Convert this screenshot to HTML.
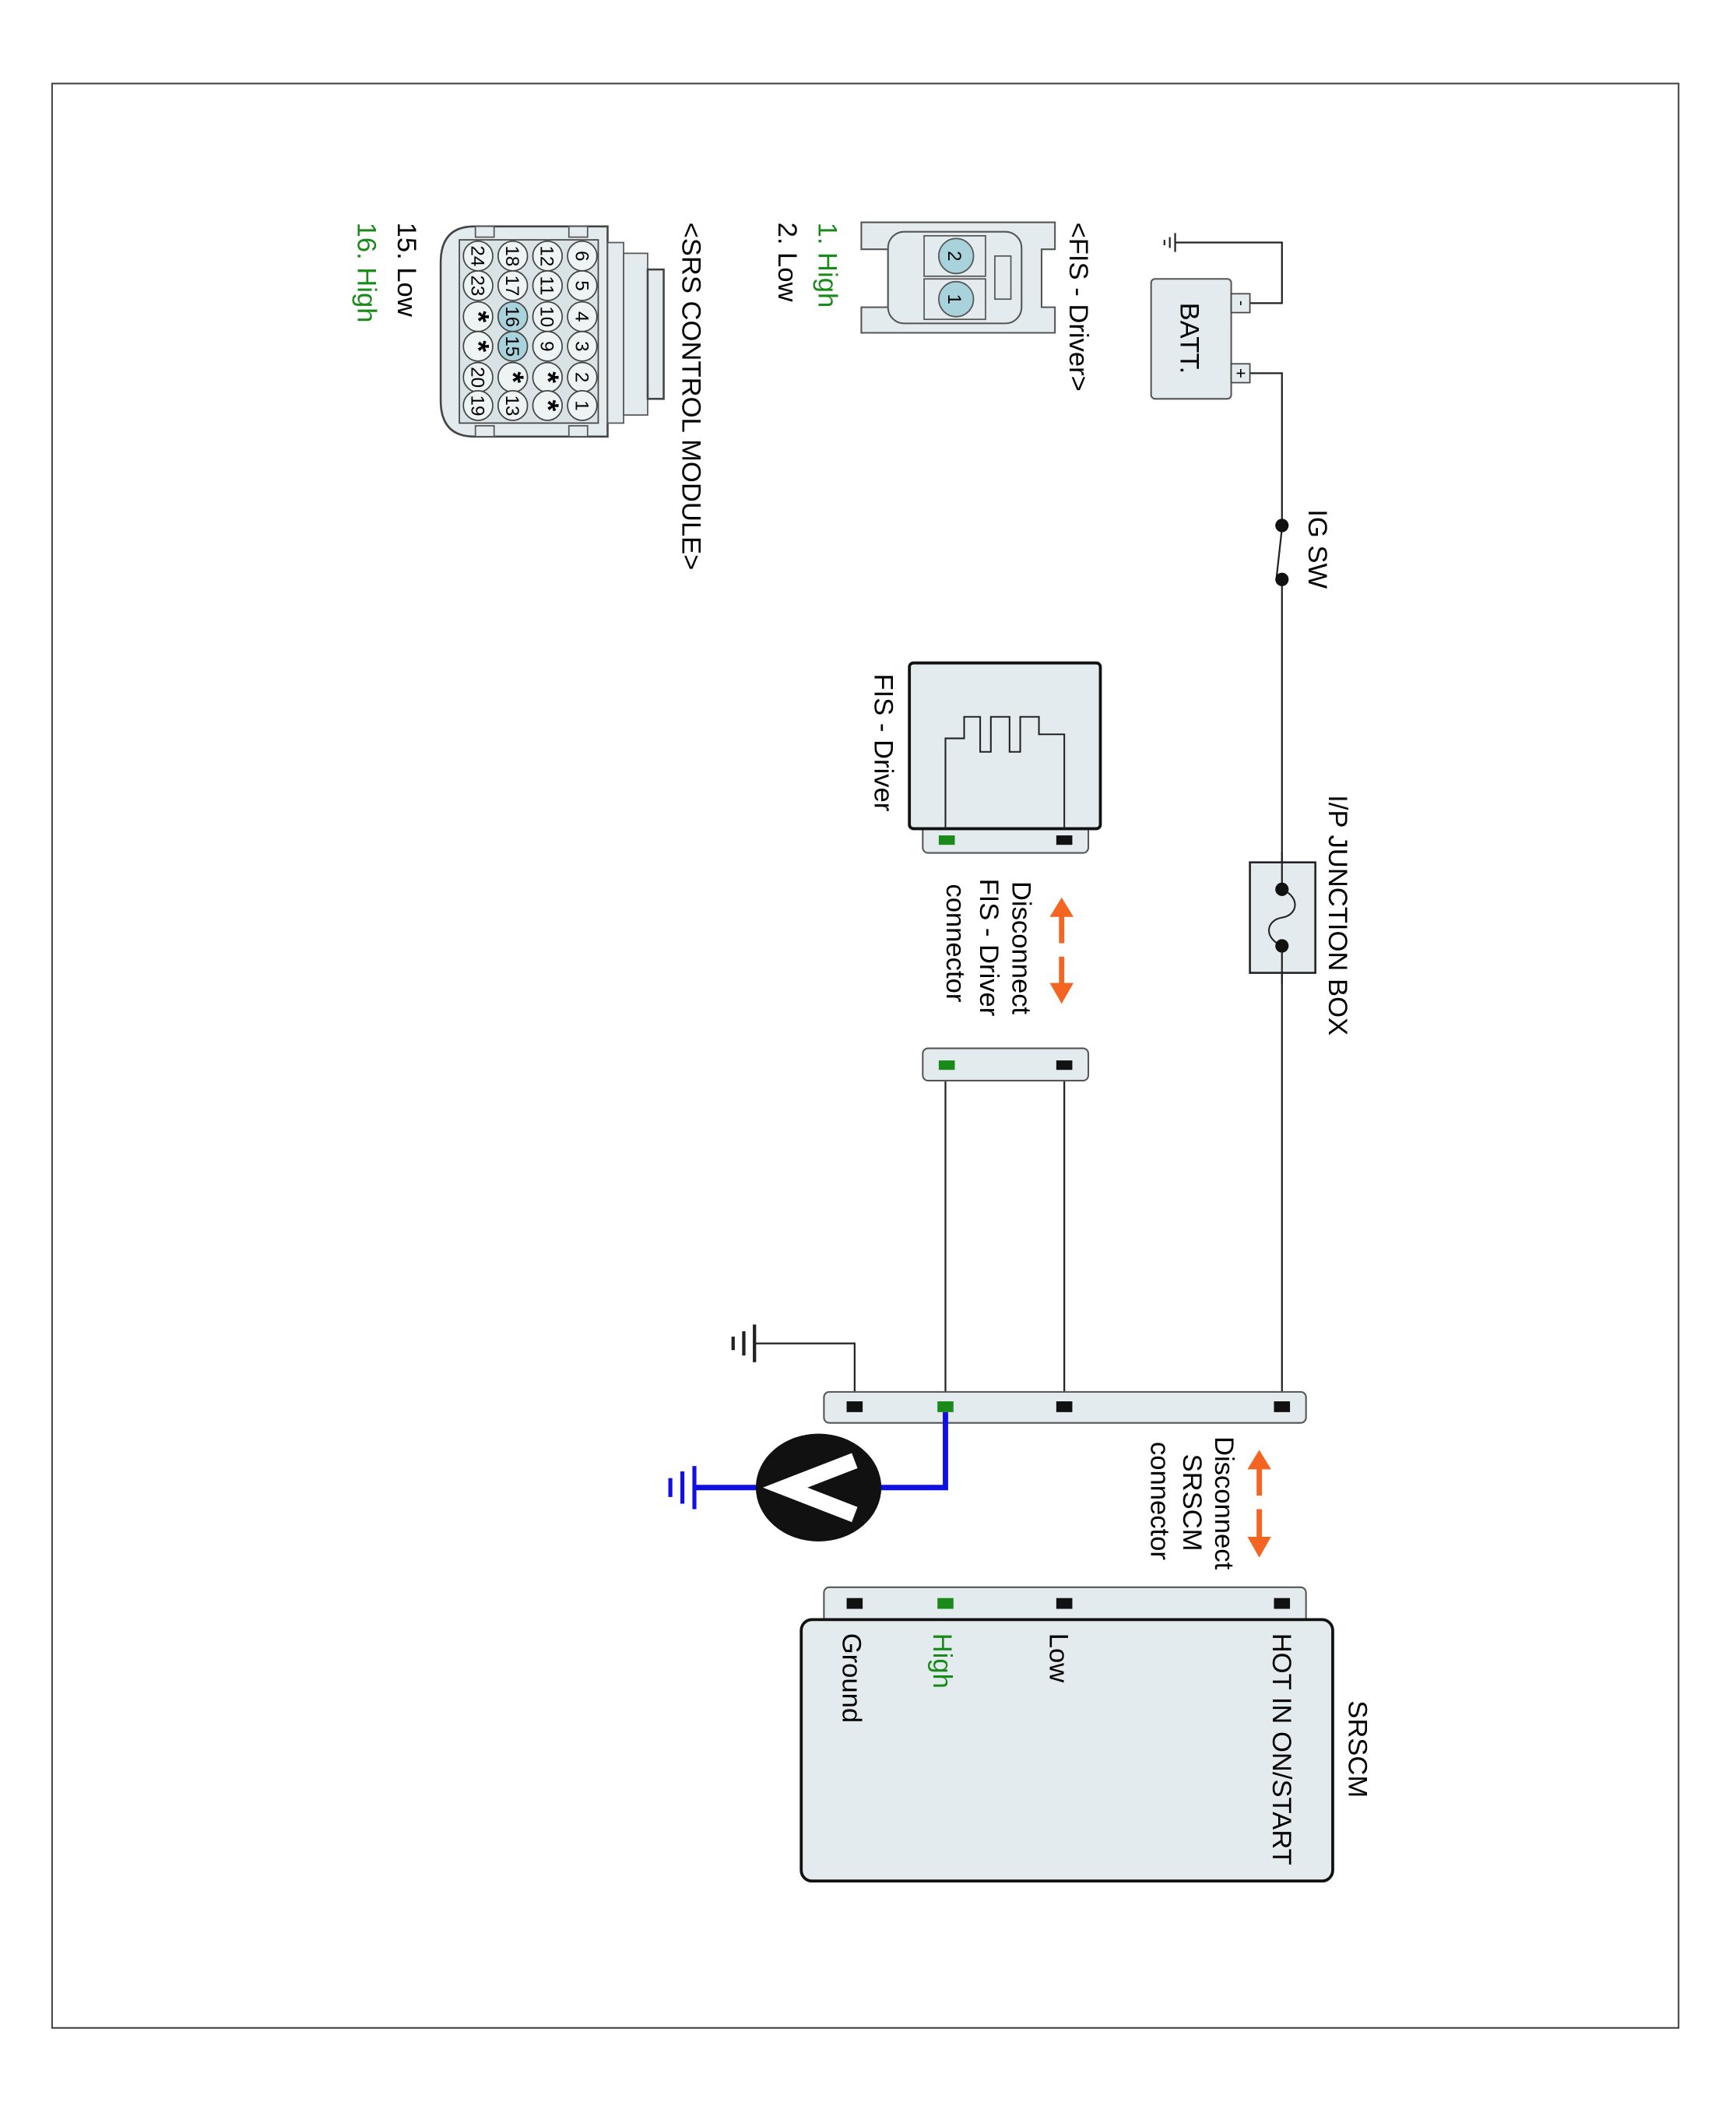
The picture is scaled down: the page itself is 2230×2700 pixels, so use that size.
<!DOCTYPE html>
<html><head><meta charset="utf-8"><style>
html,body{margin:0;padding:0;background:#fff;}
svg{display:block;}
text{font-family:"Liberation Sans",Arial,sans-serif;}
</style></head><body>
<svg width="2230" height="2700" viewBox="0 0 1300 1560" preserveAspectRatio="none" xmlns="http://www.w3.org/2000/svg">
<rect x="0" y="0" width="1300" height="1560" fill="#fff"/>
<rect x="39" y="62" width="1218" height="1443" fill="none" stroke="#444" stroke-width="1.2"/>

<g stroke="#222" stroke-width="1.3" fill="none">
<path d="M936,225 H960 V180 H880"/>
<path d="M880,173 V187 M876,176 V184 M872,178 V182"/>
<path d="M936,277 H960 V388"/>
<path d="M960,392 L956,428"/>
<path d="M960,432 V1044"/>
<path d="M708,790 V1044 M797,790 V1044"/>
<path d="M640,1044 V997 H565"/>
</g>
<g stroke="#222" stroke-width="2.5">
<path d="M565,983 V1011 M557,988 V1006 M549,992 V1002"/>
</g>
<rect x="862" y="207" width="60" height="89" rx="3" fill="#e3ebee" stroke="#555" stroke-width="1.2"/>
<rect x="922" y="218" width="14" height="14" fill="#e3ebee" stroke="#444"/>
<rect x="922" y="270" width="14" height="14" fill="#e3ebee" stroke="#444"/>
<text transform="translate(926,225) rotate(90)" font-size="12" text-anchor="middle">-</text>
<text transform="translate(925,277) rotate(90)" font-size="13" text-anchor="middle">+</text>
<text transform="translate(884,251) rotate(90)" font-size="20" text-anchor="middle">BATT.</text>
<circle cx="960" cy="390" r="5" fill="#111"/>
<circle cx="960" cy="430" r="5" fill="#111"/>
<text transform="translate(980,378) rotate(90)" font-size="20">IG SW</text>
<rect x="936" y="640" width="49" height="82" fill="#e3ebee" stroke="#222" stroke-width="1.5"/>
<line x1="960" y1="632" x2="960" y2="660" stroke="#222" stroke-width="1.3"/>
<line x1="960" y1="702" x2="960" y2="730" stroke="#222" stroke-width="1.3"/>
<path d="M960,660 C974,666 972,679 960,681 C948,683 946,696 960,702" fill="none" stroke="#222" stroke-width="1.2"/>
<circle cx="960" cy="660" r="5" fill="#111"/>
<circle cx="960" cy="702" r="5" fill="#111"/>
<text transform="translate(995,590) rotate(90)" font-size="20">I/P JUNCTION BOX</text>

<rect x="691" y="600" width="124" height="33" rx="4" fill="#e3ebee" stroke="#555" stroke-width="1.2"/>
<rect x="681" y="492" width="143" height="123" rx="3" fill="#e3ebee" stroke="#111" stroke-width="2.2"/>
<path d="M708,615 V548 H722 V532 H734 V558 H742 V532 H756 V558 H764 V532 H778 V545 H797 V615" fill="none" stroke="#222" stroke-width="1.2"/>
<rect x="703" y="620" width="12" height="7" fill="#1a8a1a"/>
<rect x="791" y="620" width="12" height="7" fill="#111"/>
<text transform="translate(655,500) rotate(90)" font-size="20">FIS - Driver</text>
<g fill="#f26522" stroke="#f26522">
<path d="M795,700 V678" stroke-width="4"/><path d="M787,680 L795,667 L803,680 Z"/>
<path d="M795,710 V732" stroke-width="4"/><path d="M787,730 L795,744 L803,730 Z"/>
</g>
<text transform="translate(758,654) rotate(90)" font-size="20">Disconnect</text>
<text transform="translate(734,652) rotate(90)" font-size="20">FIS - Driver</text>
<text transform="translate(709,656) rotate(90)" font-size="20">connector</text>
<rect x="691" y="778" width="124" height="24" rx="4" fill="#e3ebee" stroke="#555" stroke-width="1.2"/>
<rect x="703" y="787" width="12" height="7" fill="#1a8a1a"/>
<rect x="791" y="787" width="12" height="7" fill="#111"/>

<rect x="617" y="1033" width="361" height="23" rx="4" fill="#e3ebee" stroke="#555" stroke-width="1.2"/>
<rect x="634" y="1040" width="12" height="8" fill="#111"/>
<rect x="702" y="1040" width="12" height="8" fill="#1a8a1a"/>
<rect x="791" y="1040" width="12" height="8" fill="#111"/>
<rect x="954" y="1040" width="12" height="8" fill="#111"/>
<path d="M708,1048 V1104 H650" fill="none" stroke="#1010e0" stroke-width="4"/>
<path d="M575,1104 H520" fill="none" stroke="#1010e0" stroke-width="4"/>
<path d="M520,1088 V1120 M511,1092 V1116 M502,1097 V1111" stroke="#1010e0" stroke-width="3"/>
<ellipse cx="613" cy="1104" rx="47" ry="40" fill="#111"/>
<path d="M640,1084 L588,1104 L640,1124" fill="none" stroke="#fff" stroke-width="12" stroke-linejoin="miter"/>
<g fill="#f26522" stroke="#f26522">
<path d="M943,1110 V1088" stroke-width="4"/><path d="M935,1090 L943,1077 L951,1090 Z"/>
<path d="M943,1120 V1143" stroke-width="4"/><path d="M935,1141 L943,1155 L951,1141 Z"/>
</g>
<text transform="translate(910,1066) rotate(90)" font-size="20">Disconnect</text>
<text transform="translate(886,1079) rotate(90)" font-size="20">SRSCM</text>
<text transform="translate(862,1070) rotate(90)" font-size="20">connector</text>
<rect x="617" y="1178" width="361" height="30" rx="4" fill="#e3ebee" stroke="#555" stroke-width="1.2"/>
<rect x="634" y="1186" width="12" height="8" fill="#111"/>
<rect x="702" y="1186" width="12" height="8" fill="#1a8a1a"/>
<rect x="791" y="1186" width="12" height="8" fill="#111"/>
<rect x="954" y="1186" width="12" height="8" fill="#111"/>
<rect x="600" y="1202" width="398" height="194" rx="8" fill="#e3ebee" stroke="#111" stroke-width="2.2"/>
<text transform="translate(953,1212) rotate(90)" font-size="20">HOT IN ON/START</text>
<text transform="translate(786,1212) rotate(90)" font-size="20">Low</text>
<text transform="translate(699,1212) rotate(90)" font-size="20" fill="#1a8a1a">High</text>
<text transform="translate(631,1212) rotate(90)" font-size="20">Ground</text>
<text transform="translate(1010,1262) rotate(90)" font-size="20">SRSCM</text>

<text transform="translate(801,165) rotate(90)" font-size="20">&lt;FIS - Driver&gt;</text>
<text transform="translate(613,165) rotate(90)" font-size="20" fill="#1a8a1a">1. High</text>
<text transform="translate(583,165) rotate(90)" font-size="20">2. Low</text>
<path d="M790,165 H645 V185 H665 V228 H645 V247 H790 V228 H780 V185 H790 Z" fill="#e3ebee" stroke="#555" stroke-width="1.2"/>
<rect x="665" y="172" width="100" height="68" rx="12" fill="#e3ebee" stroke="#555" stroke-width="1.2"/>
<rect x="692" y="175" width="46" height="30" fill="#e3ebee" stroke="#555"/>
<rect x="692" y="207" width="46" height="30" fill="#e3ebee" stroke="#555"/>
<rect x="745" y="190" width="12" height="32" fill="none" stroke="#555"/>
<circle cx="716" cy="190" r="13" fill="#a9d3dc" stroke="#555"/>
<circle cx="716" cy="222" r="13" fill="#a9d3dc" stroke="#555"/>
<text transform="translate(710,190) rotate(90)" font-size="14" text-anchor="middle">2</text>
<text transform="translate(710,222) rotate(90)" font-size="14" text-anchor="middle">1</text>

<text transform="translate(511,165) rotate(90)" font-size="20">&lt;SRS CONTROL MODULE&gt;</text>
<text transform="translate(298,165) rotate(90)" font-size="20">15. Low</text>
<text transform="translate(268,165) rotate(90)" font-size="20" fill="#1a8a1a">16. High</text>
<path d="M455,168 H355 Q330,168 330,195 V297 Q330,324 355,324 H455 Z" fill="#e3ebee" stroke="#444" stroke-width="1.5"/>
<rect x="455" y="180" width="12" height="134" fill="#e3ebee" stroke="#555"/>
<rect x="467" y="188" width="18" height="120" fill="#e3ebee" stroke="#555"/>
<rect x="485" y="200" width="12" height="96" fill="#e3ebee" stroke="#444" stroke-width="1.5"/>
<rect x="344" y="178" width="104" height="136" fill="#d9e3e6" stroke="#444"/>
<rect x="426" y="168" width="14" height="8" fill="#e3ebee" stroke="#555"/>
<rect x="356" y="168" width="14" height="8" fill="#e3ebee" stroke="#555"/>
<rect x="426" y="316" width="14" height="8" fill="#e3ebee" stroke="#555"/>
<rect x="356" y="316" width="14" height="8" fill="#e3ebee" stroke="#555"/>
<g font-size="14" text-anchor="middle">
<g fill="#eef3f4" stroke="#444">
<circle cx="436" cy="190" r="11"/><circle cx="436" cy="212" r="11"/><circle cx="436" cy="235" r="11"/><circle cx="436" cy="257" r="11"/><circle cx="436" cy="280" r="11"/><circle cx="436" cy="301" r="11"/>
<circle cx="410" cy="190" r="11"/><circle cx="410" cy="212" r="11"/><circle cx="410" cy="235" r="11"/><circle cx="410" cy="257" r="11"/><circle cx="410" cy="280" r="11"/><circle cx="410" cy="301" r="11"/>
<circle cx="384" cy="190" r="11"/><circle cx="384" cy="212" r="11"/><circle cx="384" cy="235" r="11" fill="#a9d3dc"/><circle cx="384" cy="257" r="11" fill="#a9d3dc"/><circle cx="384" cy="280" r="11"/><circle cx="384" cy="301" r="11"/>
<circle cx="358" cy="190" r="11"/><circle cx="358" cy="212" r="11"/><circle cx="358" cy="235" r="11"/><circle cx="358" cy="257" r="11"/><circle cx="358" cy="280" r="11"/><circle cx="358" cy="301" r="11"/>
</g>
<text transform="translate(431,190) rotate(90)">6</text><text transform="translate(431,212) rotate(90)">5</text><text transform="translate(431,235) rotate(90)">4</text><text transform="translate(431,257) rotate(90)">3</text><text transform="translate(431,280) rotate(90)">2</text><text transform="translate(431,301) rotate(90)">1</text>
<text transform="translate(405,190) rotate(90)">12</text><text transform="translate(405,212) rotate(90)">11</text><text transform="translate(405,235) rotate(90)">10</text><text transform="translate(405,257) rotate(90)">9</text><text transform="translate(403,280) rotate(90)" font-size="22" font-weight="bold">*</text><text transform="translate(403,301) rotate(90)" font-size="22" font-weight="bold">*</text>
<text transform="translate(379,190) rotate(90)">18</text><text transform="translate(379,212) rotate(90)">17</text><text transform="translate(379,235) rotate(90)">16</text><text transform="translate(379,257) rotate(90)">15</text><text transform="translate(377,280) rotate(90)" font-size="22" font-weight="bold">*</text><text transform="translate(379,301) rotate(90)">13</text>
<text transform="translate(353,190) rotate(90)">24</text><text transform="translate(353,212) rotate(90)">23</text><text transform="translate(351,235) rotate(90)" font-size="22" font-weight="bold">*</text><text transform="translate(351,257) rotate(90)" font-size="22" font-weight="bold">*</text><text transform="translate(353,280) rotate(90)">20</text><text transform="translate(353,301) rotate(90)">19</text>
</g>
</svg>
</body></html>
